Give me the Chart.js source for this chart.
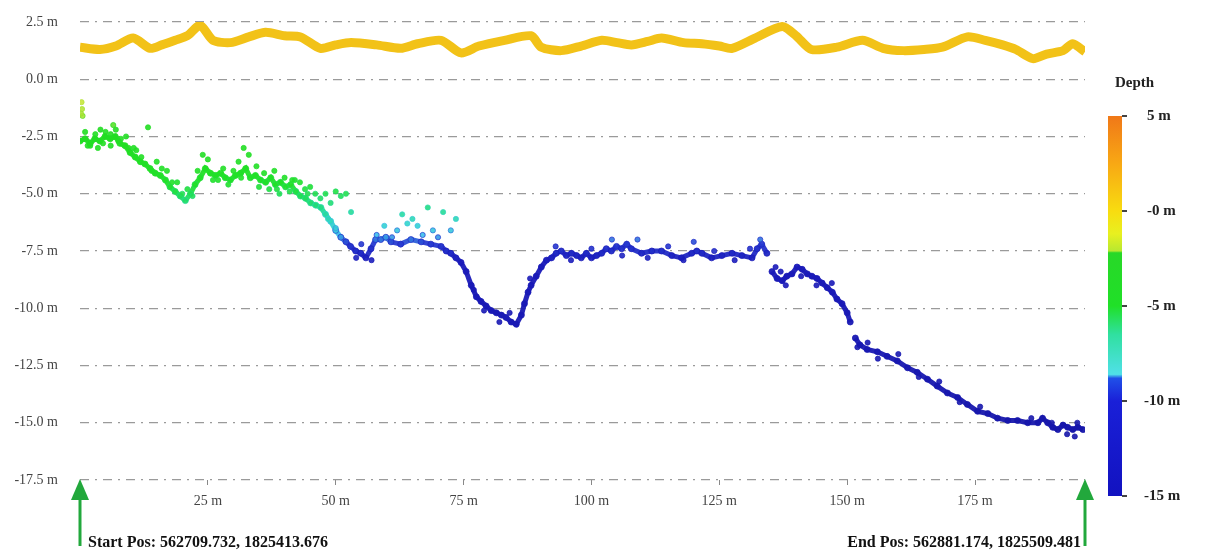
<!DOCTYPE html>
<html>
<head>
<meta charset="utf-8">
<script src="https://cdn.jsdelivr.net/npm/chart.js@4.4.1/dist/chart.umd.min.js"></script>
<style>
  html, body { margin: 0; padding: 0; background: #fff; }
  #wrap { width: 1206px; height: 551px; position: relative; }
</style>
</head>
<body>
<div id="wrap"><canvas id="profile"></canvas></div>
<script>
// --- profile data (distance in m, height/depth in m) ---
const X_MAX = 196.5;
const yTicks = [2.5, 0, -2.5, -5, -7.5, -10, -12.5, -15, -17.5];
const xTicks = [25, 50, 75, 100, 125, 150, 175];

// water surface band (yellow)
const surfX = [0, 3.9, 7, 10.4, 13.7, 16, 18.6, 21, 23.5, 26, 29.4, 33, 36.3, 40, 43.1, 47, 50, 53, 58, 62.7, 66, 70.6, 74.5, 78, 83, 88.2, 90.2, 94.1, 98, 102, 105, 107.8, 111, 113.7, 118, 121.6, 125, 127.5, 132, 137.3, 140, 143, 148, 153, 157, 161, 165, 168.6, 173.5, 177, 180.4, 183, 186.3, 189, 192.2, 194.1, 196.5];
const surfY = [1.4, 1.3, 1.45, 1.8, 1.35, 1.5, 1.7, 1.9, 2.35, 1.7, 1.6, 1.85, 2.05, 1.9, 1.85, 1.35, 1.5, 1.6, 1.5, 1.35, 1.55, 1.7, 1.15, 1.45, 1.7, 1.9, 1.4, 1.25, 1.45, 1.7, 1.6, 1.5, 1.65, 1.8, 1.6, 1.55, 1.45, 1.35, 1.8, 2.3, 1.9, 1.3, 1.4, 1.7, 1.35, 1.25, 1.3, 1.4, 1.85, 1.7, 1.5, 1.3, 0.9, 1.1, 1.25, 1.55, 1.2];

// seabed main track
const bedX = [0, 1, 2, 2.9, 3.9, 4.9, 5.9, 6.9, 7.8, 8.8, 9.8, 10.8, 11.8, 12.7, 13.7, 14.7, 15.7, 16.7, 17.6, 18.6, 19.6, 20.6, 21.6, 22.5, 23.5, 24.5, 25.5, 26.5, 27.5, 28.4, 29.4, 30.4, 31.4, 32.4, 33.3, 34.3, 35.3, 36.3, 37.3, 38.2, 39.2, 40.2, 41.2, 42.2, 43.1, 44.1, 45.1, 46.1, 47.1, 48, 49, 50, 51, 52, 52.9, 53.9, 54.9, 55.9, 56.9, 57.8, 58.8, 59.8, 60.8, 62.7, 64.7, 66.7, 68.6, 70.6, 71.6, 72.5, 73.5, 74.5, 75.5, 76.5, 77.5, 78.4, 79.4, 80.4, 81.4, 82.4, 83.3, 84.3, 85.3, 86.3, 86.9, 87.6, 88.2, 89.2, 90.2, 91.2, 92.2, 93.1, 94.1, 95.1, 96.1, 97.1, 98, 99, 100, 101, 102, 102.9, 103.9, 104.9, 105.9, 106.9, 107.8, 109.8, 111.8, 113.7, 115.7, 117.6, 119.6, 120.6, 121.6, 123.5, 125.5, 127.5, 129.4, 131.4, 132.4, 133.3, 134.3, 134.8, 135.3, 136.3, 137.3, 138.2, 139.2, 140.2, 141.2, 142.2, 143.1, 144.1, 145.1, 146.1, 147.1, 148, 149, 150, 150.6, 151.1, 151.6, 152.5, 153.9, 155.9, 157.8, 159.8, 161.8, 163.7, 165.7, 167.6, 169.6, 171.6, 173.5, 175.5, 177.5, 179.4, 181.4, 183.3, 185.3, 187.3, 188.2, 189.2, 190.2, 191.2, 192.2, 193.1, 194.1, 195.1, 196.1];
const bedY = [-2.7, -2.6, -2.8, -2.6, -2.7, -2.5, -2.6, -2.5, -2.8, -2.9, -3.2, -3.4, -3.6, -3.7, -3.9, -4.1, -4.2, -4.4, -4.7, -4.9, -5.1, -5.3, -5.0, -4.6, -4.3, -3.9, -4.1, -4.2, -4.1, -4.3, -4.4, -4.2, -4.1, -3.9, -4.3, -4.2, -4.4, -4.5, -4.3, -4.6, -4.5, -4.7, -4.6, -4.9, -5.1, -5.2, -5.4, -5.5, -5.6, -5.9, -6.2, -6.6, -6.9, -7.1, -7.3, -7.5, -7.6, -7.8, -7.4, -7.0, -7.0, -6.9, -7.1, -7.2, -7.0, -7.1, -7.2, -7.3, -7.5, -7.6, -7.8, -8.0, -8.4, -9.0, -9.5, -9.7, -9.9, -10.1, -10.2, -10.3, -10.4, -10.6, -10.7, -10.3, -9.8, -9.3, -9.0, -8.6, -8.2, -7.9, -7.8, -7.6, -7.5, -7.7, -7.6, -7.7, -7.8, -7.6, -7.8, -7.7, -7.6, -7.4, -7.5, -7.3, -7.4, -7.2, -7.4, -7.6, -7.5, -7.5, -7.7, -7.8, -7.6, -7.5, -7.6, -7.8, -7.7, -7.6, -7.7, -7.8, -7.4, -7.2, -7.6, null, -8.4, -8.7, -8.8, -8.6, -8.5, -8.2, -8.3, -8.5, -8.6, -8.7, -8.9, -9.1, -9.3, -9.6, -9.8, -10.2, -10.6, null, -11.3, -11.6, -11.8, -11.9, -12.1, -12.3, -12.6, -12.8, -13.1, -13.4, -13.7, -13.9, -14.2, -14.5, -14.6, -14.8, -14.9, -14.9, -15.0, -15.0, -14.8, -15.0, -15.2, -15.3, -15.1, -15.2, -15.3, -15.2, -15.3];

// stray soundings around the track
const scatX = [0.3, 0.4, 0.5, 0.2, 1, 2, 3.5, 5, 6, 8, 9, 7, 4, 6.5, 13.3, 11, 15, 17, 19, 22, 21, 24, 25, 27, 30, 31, 32, 33, 34.5, 36, 38, 40, 42, 44, 45, 46, 48, 50, 51, 52, 47, 49, 43, 41, 37, 39, 48.5, 50, 53, 58, 59.5, 61, 62, 64, 65, 66, 67, 69, 70, 71, 73.5, 68, 72.5, 63, 55, 57, 54, 77, 79, 84, 82, 88, 93, 96, 100, 104, 106, 109, 111, 115, 118, 120, 124, 128, 131, 133, 136, 138, 137, 141, 144, 147, 152, 154, 156, 160, 164, 168, 172, 176, 186, 190, 193, 194.5, 195, 1.5, 3, 4.5, 6, 7.5, 9.5, 10.5, 12, 14, 16, 18, 20, 23, 26, 28, 29, 31.5, 35, 38.5, 41.5, 44.5];
const scatY = [-1.0, -1.3, -1.6, -1.5, -2.3, -2.9, -3.0, -2.3, -2.9, -2.6, -2.5, -2.2, -2.2, -2.0, -2.1, -3.1, -3.6, -4.0, -4.5, -5.1, -4.8, -3.3, -3.5, -4.4, -4.0, -3.6, -3.0, -3.3, -3.8, -4.1, -4.0, -4.3, -4.4, -4.8, -4.7, -5.0, -5.0, -4.9, -5.1, -5.0, -5.2, -5.4, -4.5, -4.9, -4.8, -5.0, -6.1, -6.5, -5.8, -6.8, -6.4, -6.9, -6.6, -6.3, -6.1, -6.4, -6.8, -6.6, -6.9, -5.8, -6.1, -5.6, -6.6, -5.9, -7.2, -7.9, -7.8, -9.2, -10.1, -10.2, -10.6, -8.7, -7.3, -7.9, -7.4, -7.0, -7.7, -7.0, -7.8, -7.3, -7.9, -7.1, -7.5, -7.9, -7.4, -7.0, -8.2, -9.0, -8.4, -8.6, -9.0, -8.9, -11.7, -11.5, -12.2, -12.0, -13.0, -13.2, -14.1, -14.3, -14.8, -15.0, -15.5, -15.6, -15.0, -2.9, -2.4, -2.8, -2.4, -2.7, -3.0, -3.0, -3.4, -4.0, -3.9, -4.5, -5.0, -4.0, -4.4, -3.9, -4.6, -4.3, -4.7, -4.8, -4.4, -5.0];

// colour bar
const CB_MAX = 5, CB_MIN = -15;
const cbTicks = [5, 0, -5, -10, -15];
const cbLabels = ['5 m', '-0 m', '-5 m', '-10 m', '-15 m'];

const SERIF = "'Liberation Serif', 'DejaVu Serif', serif";

// depth -> point colour (as in the picture)
const PT_STOPS = [
  [-1.0, [200, 230, 60]], [-1.9, [150, 225, 50]], [-2.1, [34, 221, 34]], [-4.6, [34, 224, 40]],
  [-5.6, [34, 220, 130]], [-6.3, [50, 215, 200]], [-6.8, [60, 190, 235]], [-7.15, [40, 60, 210]],
  [-8, [26, 26, 185]], [-16, [22, 22, 170]]
];
function depthColor(d, a) {
  if (d >= PT_STOPS[0][0]) return `rgba(${PT_STOPS[0][1].join(',')},${a})`;
  for (let i = 1; i < PT_STOPS.length; i++) {
    const [v1, c1] = PT_STOPS[i - 1], [v2, c2] = PT_STOPS[i];
    if (d >= v2) {
      const t = (v1 - d) / (v1 - v2);
      const c = c1.map((c, k) => Math.round(c + (c2[k] - c) * t));
      return `rgba(${c.join(',')},${a})`;
    }
  }
  return `rgba(${PT_STOPS[PT_STOPS.length - 1][1].join(',')},${a})`;
}

const toPts = (xs, ys) => xs.map((x, i) => ({ x: x, y: ys[i] }));

const overlay = {
  id: 'overlay',
  afterDraw(chart) {
    const ctx = chart.ctx;
    const xs = chart.scales.x;
    ctx.save();

    // colour bar
    const top = 116, bot = 496, left = 1108, w = 14;
    const cbY = v => top + (CB_MAX - v) / (CB_MAX - CB_MIN) * (bot - top);
    const stop = v => (CB_MAX - v) / (CB_MAX - CB_MIN);
    const g = ctx.createLinearGradient(0, top, 0, bot);
    g.addColorStop(stop(5), '#f07818');
    g.addColorStop(stop(2.5), '#f8a814');
    g.addColorStop(stop(0), '#f8dc10');
    g.addColorStop(stop(-1.2), '#e8f020');
    g.addColorStop(stop(-2.1), '#b8e830');
    g.addColorStop(stop(-2.2), '#28d828');
    g.addColorStop(stop(-5), '#20e028');
    g.addColorStop(stop(-6.5), '#30e0a0');
    g.addColorStop(stop(-8.6), '#50e0e8');
    g.addColorStop(stop(-8.8), '#2050e8');
    g.addColorStop(stop(-10), '#1a20d8');
    g.addColorStop(stop(-15), '#1212c0');
    ctx.fillStyle = g;
    ctx.fillRect(left, top, w, bot - top);

    ctx.fillStyle = '#222';
    ctx.strokeStyle = '#444';
    ctx.lineWidth = 2;
    ctx.font = 'bold 15px ' + SERIF;
    ctx.textBaseline = 'middle';
    ctx.textAlign = 'left';
    cbTicks.forEach((v, i) => {
      const y = cbY(v);
      ctx.beginPath(); ctx.moveTo(left + w, y); ctx.lineTo(left + w + 5, y); ctx.stroke();
      ctx.fillText(cbLabels[i], left + w + (cbLabels[i].length > 4 ? 22 : 25), y);
    });
    ctx.font = 'bold 15px ' + SERIF;
    ctx.fillText('Depth', 1115, 83);

    // start / end arrows
    const arrow = px => {
      ctx.fillStyle = '#22a83c';
      ctx.strokeStyle = '#22a83c';
      ctx.lineWidth = 3;
      ctx.beginPath(); ctx.moveTo(px, 496); ctx.lineTo(px, 546); ctx.stroke();
      ctx.beginPath(); ctx.moveTo(px, 479); ctx.lineTo(px - 9, 500); ctx.lineTo(px + 9, 500); ctx.closePath(); ctx.fill();
    };
    const x0 = xs.getPixelForValue(0), x1 = xs.getPixelForValue(X_MAX);
    arrow(x0);
    arrow(x1);

    ctx.fillStyle = '#111';
    ctx.font = 'bold 16px ' + SERIF;
    ctx.textBaseline = 'middle';
    ctx.textAlign = 'left';
    ctx.fillText('Start Pos: 562709.732, 1825413.676', x0 + 8, 543);
    ctx.textAlign = 'right';
    ctx.fillText('End Pos: 562881.174, 1825509.481', x1 - 4, 543);
    ctx.restore();
  }
};

new Chart(document.getElementById('profile'), {
  type: 'scatter',
  data: {
    datasets: [
      {
        label: 'Surface',
        data: toPts(surfX, surfY),
        showLine: true,
        borderColor: '#f2c218',
        borderWidth: 9,
        tension: 0.25,
        pointRadius: 0
      },
      {
        label: 'Scatter',
        data: toPts(scatX, scatY),
        pointRadius: 2.6,
        pointBackgroundColor: ctx => depthColor(ctx.raw.y, 0.9),
        pointBorderColor: ctx => depthColor(ctx.raw.y - 0.4, 0.9),
        pointBorderWidth: 0.8
      },
      {
        label: 'Seabed',
        data: toPts(bedX, bedY),
        showLine: true,
        spanGaps: false,
        borderWidth: 5,
        segment: {
          borderColor: s => depthColor((s.p0.parsed.y + s.p1.parsed.y) / 2, 0.95)
        },
        pointRadius: 3,
        pointBackgroundColor: ctx => depthColor(ctx.raw.y === null ? -8 : ctx.raw.y, 0.95),
        pointBorderColor: ctx => depthColor(ctx.raw.y === null ? -8 : ctx.raw.y - 0.5, 0.95),
        pointBorderWidth: 0.8
      }
    ]
  },
  options: {
    responsive: true,
    maintainAspectRatio: false,
    animation: false,
    layout: { padding: { top: 22, right: 121, left: 0, bottom: 0 } },
    plugins: { legend: { display: false }, tooltip: { enabled: false } },
    scales: {
      x: {
        type: 'linear',
        min: 0, max: X_MAX,
        afterFit: s => { s.height = 71; },
        afterBuildTicks: s => { s.ticks = xTicks.map(v => ({ value: v })); },
        grid: { display: true, drawOnChartArea: false, drawTicks: true, tickLength: 5, color: '#888' },
        border: { display: false },
        ticks: {
          padding: 8,
          color: '#444',
          font: { family: SERIF, size: 14 },
          callback: v => v + ' m'
        }
      },
      y: {
        min: -17.5, max: 2.5,
        afterFit: s => { s.width = 80; s.paddingTop = 0; },
        afterBuildTicks: s => { s.ticks = yTicks.map(v => ({ value: v })); },
        grid: { color: '#9a9a9a', lineWidth: 1.2, drawTicks: false },
        border: { display: false, dash: [9, 6, 2, 6] },
        ticks: {
          padding: 22,
          color: '#444',
          font: { family: SERIF, size: 14 },
          callback: v => v.toFixed(1) + ' m'
        }
      }
    }
  },
  plugins: [overlay]
});
</script>
</body>
</html>
